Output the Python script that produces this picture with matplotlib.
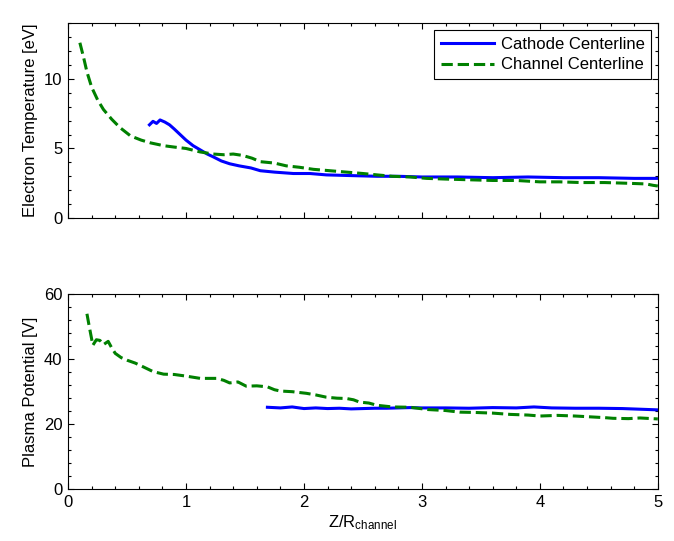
import matplotlib
matplotlib.use("Agg")
import matplotlib.pyplot as plt
from matplotlib.ticker import MultipleLocator

# Electron temperature, channel centerline
te_chan_x = [0.10, 0.13, 0.16, 0.20, 0.25, 0.30, 0.37, 0.44, 0.53, 0.62, 0.70, 0.81,
             0.90, 1.00, 1.12, 1.23, 1.32, 1.40, 1.48, 1.56, 1.63, 1.75, 1.85, 1.96,
             2.08, 2.22, 2.36, 2.50, 2.62, 2.75, 2.90, 3.04, 3.20, 3.40, 3.60, 3.80,
             4.00, 4.17, 4.35, 4.55, 4.74, 4.90, 4.96, 5.00]
te_chan_y = [12.6, 11.6, 10.5, 9.4, 8.5, 7.8, 7.1, 6.5, 5.9, 5.6, 5.4, 5.2,
             5.1, 5.0, 4.75, 4.6, 4.55, 4.6, 4.5, 4.3, 4.05, 3.95, 3.75, 3.65,
             3.5, 3.4, 3.3, 3.2, 3.1, 3.0, 2.95, 2.85, 2.8, 2.75, 2.7, 2.7,
             2.6, 2.6, 2.55, 2.55, 2.5, 2.45, 2.35, 2.3]

# Electron temperature, cathode centerline
te_cath_x = [0.69, 0.72, 0.75, 0.78, 0.82, 0.86, 0.90, 0.95, 1.00, 1.06, 1.12, 1.18,
             1.23, 1.30, 1.37, 1.45, 1.55, 1.63, 1.75, 1.91, 2.05, 2.19, 2.40, 2.62,
             2.80, 3.00, 3.30, 3.60, 3.90, 4.20, 4.50, 4.80, 5.00]
te_cath_y = [6.7, 6.95, 6.8, 7.05, 6.9, 6.7, 6.4, 6.0, 5.6, 5.2, 4.9, 4.6,
             4.4, 4.1, 3.9, 3.75, 3.6, 3.4, 3.3, 3.2, 3.2, 3.1, 3.05, 3.0,
             3.0, 2.95, 2.95, 2.9, 2.95, 2.9, 2.9, 2.85, 2.85]

# Plasma potential, channel centerline
vp_chan_x = [0.16, 0.18, 0.21, 0.24, 0.27, 0.30, 0.34, 0.37, 0.40, 0.45, 0.50, 0.57,
             0.64, 0.72, 0.81, 0.90, 1.00, 1.12, 1.26, 1.32, 1.37, 1.44, 1.51, 1.60,
             1.69, 1.75, 1.80, 1.90, 2.02, 2.10, 2.19, 2.28, 2.36, 2.42, 2.47, 2.55,
             2.62, 2.75, 2.90, 3.05, 3.20, 3.32, 3.45, 3.60, 3.75, 3.90, 4.00, 4.15,
             4.30, 4.45, 4.55, 4.62, 4.75, 4.85, 5.00]
vp_chan_y = [54, 50, 44.3, 46, 45.8, 44.5, 45.5, 43.5, 41.8, 40.5, 39.7, 38.8,
             37.6, 36.2, 35.4, 35.3, 34.8, 34.1, 34.1, 33.5, 32.7, 33.0, 31.7, 31.8,
             31.5, 30.6, 30.2, 30.0, 29.5, 29.0, 28.3, 28.0, 27.9, 27.5, 26.8, 26.5,
             25.8, 25.3, 25.2, 24.5, 24.2, 23.7, 23.6, 23.4, 23.0, 22.8, 22.5, 22.7,
             22.5, 22.2, 22.0, 21.8, 21.7, 21.9, 21.6]

# Plasma potential, cathode centerline
vp_cath_x = [1.69, 1.8, 1.9, 2.0, 2.1, 2.2, 2.3, 2.4, 2.5, 2.6, 2.7, 2.8, 2.9,
             3.0, 3.2, 3.4, 3.6, 3.8, 3.95, 4.1, 4.3, 4.5, 4.7, 4.85, 5.0]
vp_cath_y = [25.2, 25.0, 25.3, 24.8, 25.0, 24.8, 24.9, 24.7, 24.8, 24.9, 24.9, 25.0, 25.1,
             25.0, 25.0, 24.9, 25.1, 25.0, 25.3, 25.0, 24.9, 24.9, 24.8, 24.6, 24.4]

plt.rcParams["font.family"] = ["Liberation Sans", "DejaVu Sans"]
plt.rcParams["font.size"] = 12
plt.rcParams["mathtext.fontset"] = "custom"
plt.rcParams["mathtext.rm"] = "Liberation Sans"
plt.rcParams["mathtext.it"] = "Liberation Sans"

blue = (0, 0, 1)
green = (0, 0.5, 0)

fig = plt.figure(figsize=(6.74, 5.41), dpi=100)
ax1 = fig.add_axes([0.101, 0.597, 0.875, 0.360])
ax2 = fig.add_axes([0.101, 0.096, 0.875, 0.360])


def style_axes(ax, ymax, ymajor, yminor):
    ax.set_xlim(0, 5)
    ax.set_ylim(0, ymax)
    ax.xaxis.set_major_locator(MultipleLocator(1))
    ax.xaxis.set_minor_locator(MultipleLocator(0.2))
    ax.yaxis.set_major_locator(MultipleLocator(ymajor))
    ax.yaxis.set_minor_locator(MultipleLocator(yminor))
    ax.tick_params(which="both", direction="in", top=True, right=True, width=0.8)
    ax.tick_params(which="major", length=4, pad=4)
    ax.tick_params(which="minor", length=2)
    for sp in ax.spines.values():
        sp.set_linewidth(0.8)


ax1.plot(te_cath_x, te_cath_y, color=blue, lw=2.2, label="Cathode Centerline")
ax1.plot(te_chan_x, te_chan_y, color=green, lw=2.2, ls="--", label="Channel Centerline")
style_axes(ax1, 14, 5, 1)
ax1.set_xticklabels([])
ax1.set_ylabel("Electron Temperature [eV]")
leg = ax1.legend(loc="upper right", fancybox=False, edgecolor="black", framealpha=1,
                 handlelength=3.2, borderaxespad=0.4, borderpad=0.4, labelspacing=0.35,
                 handletextpad=0.4)
leg.get_frame().set_linewidth(0.8)

ax2.plot(vp_cath_x, vp_cath_y, color=blue, lw=2.2)
ax2.plot(vp_chan_x, vp_chan_y, color=green, lw=2.2, ls="--")
style_axes(ax2, 60, 20, 4)
ax2.set_ylabel("Plasma Potential [V]")
ax2.set_xlabel("Z/R$_\\mathregular{channel}$", labelpad=3)

fig.savefig("out.png", dpi=100)
